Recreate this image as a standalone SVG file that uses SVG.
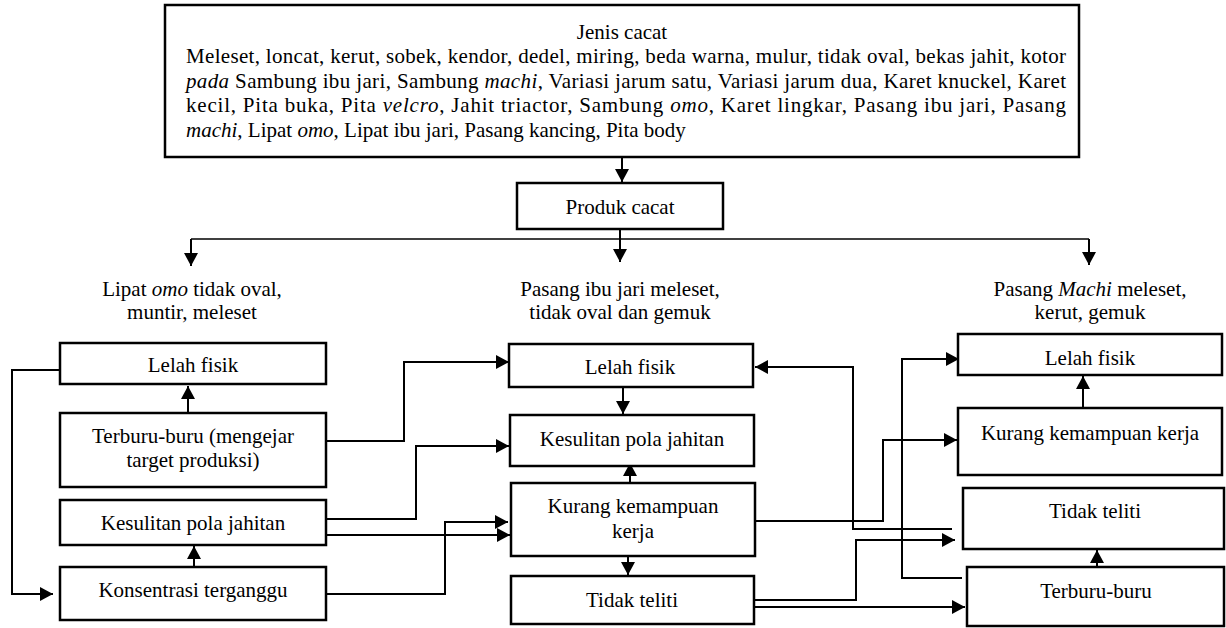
<svg xmlns="http://www.w3.org/2000/svg" width="1226" height="628" viewBox="0 0 1226 628">
<style>
.box{fill:#fff;stroke:#000;stroke-width:2.5}
.t{font-family:"Liberation Serif","Times New Roman",serif;font-size:21px;fill:#000}
.c{text-anchor:middle}
.i{font-style:italic}
.ln{fill:none;stroke:#000;stroke-width:2}
.thin{stroke-width:1.3}
.arr{marker-end:url(#ah)}
</style>
<defs>
<marker id="ah" markerUnits="userSpaceOnUse" markerWidth="14" markerHeight="14" refX="13" refY="7" orient="auto" viewBox="0 0 14 14">
<path d="M0,0 L13,7 L0,14 z" fill="#000"/>
</marker>
</defs>
<rect width="1226" height="628" fill="#fff"/>

<g id="connectors">
<path class="ln" d="M622,157 V182" marker-end="url(#ah)"/>
<path class="ln" d="M620,229 V239"/>
<path class="ln thin" d="M191,239 H1089"/>
<path class="ln arr" d="M191,239 V266"/>
<path class="ln arr" d="M620,239 V262"/>
<path class="ln arr" d="M1089,239 V265"/>
<!-- left column -->
<path class="ln arr" d="M188,412 V386"/>
<path class="ln arr" d="M194,567 V546"/>
<path class="ln arr" d="M60,370 H12 V594 H53"/>
<path class="ln arr" d="M326,441 H404 V362 H509"/>
<path class="ln arr" d="M326,519 H416 V446 H509"/>
<path class="ln arr" d="M326,535 H510"/>
<path class="ln arr" d="M326,594 H445 V522 H508"/>
<!-- center column -->
<path class="ln arr" d="M623,378 V414"/>
<path class="ln arr" d="M630,483 V463"/>
<path class="ln arr" d="M628,556 V575"/>
<path class="ln arr" d="M952,529 H853 V367 H755"/>
<path class="ln arr" d="M755,521 H883 V440 H957"/>
<path class="ln arr" d="M754,600 H856 V540 H955"/>
<path class="ln arr" d="M754,607 H965"/>
<!-- right column -->
<path class="ln arr" d="M962,578 H902 V359 H959"/>
<path class="ln arr" d="M1083,408 V376"/>
<path class="ln arr" d="M1097,567 V550"/>
</g>

<g id="jenis-cacat">
<rect class="box" x="165" y="5" width="914" height="152"/>
<text class="t c" x="622" y="39">Jenis cacat</text>
<text class="t" x="186" y="63" textLength="880" lengthAdjust="spacing">Meleset, loncat, kerut, sobek, kendor, dedel, miring, beda warna, mulur, tidak oval, bekas jahit, kotor</text>
<text class="t" x="186" y="88" textLength="880" lengthAdjust="spacing"><tspan class="i">pada</tspan> Sambung ibu jari, Sambung <tspan class="i">machi</tspan>, Variasi jarum satu, Variasi jarum dua, Karet knuckel, Karet</text>
<text class="t" x="186" y="112" textLength="880" lengthAdjust="spacing">kecil, Pita buka, Pita <tspan class="i">velcro</tspan>, Jahit triactor, Sambung <tspan class="i">omo</tspan>, Karet lingkar, Pasang ibu jari, Pasang</text>
<text class="t" x="186" y="137"><tspan class="i">machi</tspan>, Lipat <tspan class="i">omo</tspan>, Lipat ibu jari, Pasang kancing, Pita body</text>
</g>

<g id="produk-cacat">
<rect class="box" x="517" y="183" width="206" height="46"/>
<text class="t c" x="620" y="214">Produk cacat</text>
</g>

<g id="label-left">
<text class="t c" x="192" y="296">Lipat <tspan class="i">omo</tspan> tidak oval,</text>
<text class="t c" x="192" y="319">muntir, meleset</text>
</g>
<g id="label-center">
<text class="t c" x="620" y="296">Pasang ibu jari meleset,</text>
<text class="t c" x="620" y="319">tidak oval dan gemuk</text>
</g>
<g id="label-right">
<text class="t c" x="1090" y="296">Pasang <tspan class="i">Machi</tspan> meleset,</text>
<text class="t c" x="1090" y="319">kerut, gemuk</text>
</g>

<g id="left-lelah-fisik">
<rect class="box" x="60" y="343" width="266" height="41"/>
<text class="t c" x="193" y="372">Lelah fisik</text>
</g>
<g id="left-terburu-buru">
<rect class="box" x="60" y="413" width="266" height="74"/>
<text class="t c" x="193" y="443">Terburu-buru (mengejar</text>
<text class="t c" x="193" y="467">target produksi)</text>
</g>
<g id="left-kesulitan">
<rect class="box" x="60" y="500" width="266" height="45"/>
<text class="t c" x="193" y="530">Kesulitan pola jahitan</text>
</g>
<g id="left-konsentrasi">
<rect class="box" x="60" y="567" width="266" height="53"/>
<text class="t c" x="193" y="597">Konsentrasi terganggu</text>
</g>

<g id="center-lelah-fisik">
<rect class="box" x="509" y="344" width="244" height="43"/>
<text class="t c" x="630" y="374">Lelah fisik</text>
</g>
<g id="center-kesulitan">
<rect class="box" x="510" y="415" width="244" height="51"/>
<text class="t c" x="632" y="446">Kesulitan pola jahitan</text>
</g>
<g id="center-kurang">
<rect class="box" x="511" y="483" width="244" height="73"/>
<text class="t c" x="633" y="513">Kurang kemampuan</text>
<text class="t c" x="633" y="538">kerja</text>
</g>
<g id="center-tidak-teliti">
<rect class="box" x="511" y="576" width="243" height="48"/>
<text class="t c" x="632" y="607">Tidak teliti</text>
</g>

<g id="right-lelah-fisik">
<rect class="box" x="958" y="334" width="264" height="41"/>
<text class="t c" x="1090" y="365">Lelah fisik</text>
</g>
<g id="right-kurang">
<rect class="box" x="958" y="408" width="264" height="67"/>
<text class="t c" x="1090" y="440">Kurang kemampuan kerja</text>
</g>
<g id="right-tidak-teliti">
<rect class="box" x="963" y="488" width="261" height="61"/>
<text class="t c" x="1095" y="518">Tidak teliti</text>
</g>
<g id="right-terburu-buru">
<rect class="box" x="967" y="567" width="257" height="59"/>
<text class="t c" x="1096" y="598">Terburu-buru</text>
</g>
</svg>
